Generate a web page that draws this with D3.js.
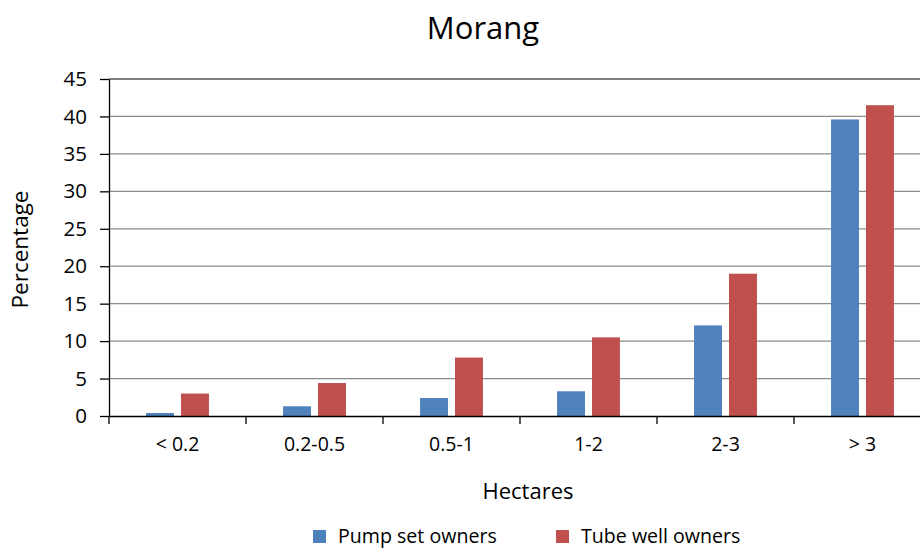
<!DOCTYPE html>
<html>
<head>
<meta charset="utf-8">
<script src="https://cdn.jsdelivr.net/npm/d3@7"></script>
<style>
body { margin: 0; background: #fff; }
text { font-family: "Open Sans", sans-serif; fill: #000; }
</style>
</head>
<body>
<div class="chart"></div>
<script>
const categories = ['< 0.2', '0.2-0.5', '0.5-1', '1-2', '2-3', '> 3'];
const seriesNames = ['Pump set owners', 'Tube well owners'];
const pumpSet = [0.4, 1.3, 2.4, 3.3, 12.1, 39.6];
const tubeWell = [3.0, 4.4, 7.8, 10.5, 19.0, 41.5];
const yTicks = [0, 5, 10, 15, 20, 25, 30, 35, 40, 45];
const colors = ['#4f81bd', '#c0504d'];

const W = 920, H = 548;
const MARGIN = {top: 79, left: 109, right: -11, bottom: 132};
const PW = W - MARGIN.left - MARGIN.right;
const PH = H - MARGIN.top - MARGIN.bottom;

const svg = d3.select('.chart').append('svg')
  .attr('width', W).attr('height', H);

const g = svg.append('g').attr('transform', `translate(${MARGIN.left},${MARGIN.top})`);

const x = d3.scaleBand().domain(categories).range([0, PW]);
const xs = d3.scaleBand().domain(seriesNames).range([0, x.bandwidth()]).paddingInner(0.2).paddingOuter(1.06);
const y = d3.scaleLinear().domain([0, 45]).range([PH, 0]);

// gridlines
g.selectAll('.grid').data(yTicks.slice(1)).enter().append('line')
  .attr('x1', 0).attr('x2', PW)
  .attr('y1', d => y(d)).attr('y2', d => y(d))
  .attr('stroke', d => d === 45 ? '#555' : '#8c8c8c')
  .attr('stroke-width', d => d === 45 ? 1.5 : 1.2);

// bars
const data = categories.map((c, i) => ({c, vals: [pumpSet[i], tubeWell[i]]}));
const grp = g.selectAll('.cat').data(data).enter().append('g')
  .attr('transform', d => `translate(${x(d.c)},0)`);
grp.selectAll('rect').data(d => d.vals.map((v, j) => ({s: seriesNames[j], v, j}))).enter().append('rect')
  .attr('x', d => xs(d.s)).attr('width', xs.bandwidth())
  .attr('y', d => y(d.v)).attr('height', d => PH - y(d.v))
  .attr('fill', d => colors[d.j]);

// y axis
const yAxis = g.append('g').call(d3.axisLeft(y).tickValues(yTicks).tickSize(9).tickSizeOuter(0));
yAxis.select('.domain').attr('stroke', '#000').attr('stroke-width', 1.3);
yAxis.selectAll('.tick line').attr('stroke', '#000').attr('stroke-width', 1.3);
yAxis.selectAll('.tick text').attr('x', -22).attr('font-size', 20.5).style('font-family', '"Open Sans", sans-serif');

// x axis
const xAxis = g.append('g').attr('transform', `translate(0,${PH})`)
  .call(d3.axisBottom(x).tickSize(0).tickSizeOuter(0));
xAxis.select('.domain').attr('stroke', '#000').attr('stroke-width', 1.3);
xAxis.selectAll('.tick text').attr('y', 21).attr('font-size', 19.5).style('font-family', '"Open Sans", sans-serif');
xAxis.selectAll('.sep').data(categories).enter().append('line')
  .attr('x1', d => x(d)).attr('x2', d => x(d))
  .attr('y1', 0).attr('y2', 8)
  .attr('stroke', '#000').attr('stroke-width', 1.3);

// title and axis labels
svg.append('text').attr('x', 483).attr('y', 39).attr('text-anchor', 'middle')
  .attr('font-size', 31).text('Morang');
svg.append('text').attr('transform', `translate(28,${MARGIN.top + PH / 2 + 2}) rotate(-90)`)
  .attr('text-anchor', 'middle').attr('font-size', 22.5).text('Percentage');
svg.append('text').attr('x', 528).attr('y', 499).attr('text-anchor', 'middle')
  .attr('font-size', 22).text('Hectares');

// legend
const legendX = [313, 556];
const lg = svg.selectAll('.legend').data(seriesNames).enter().append('g')
  .attr('transform', (d, i) => `translate(${legendX[i]},530)`);
lg.append('rect').attr('width', 13).attr('height', 13).attr('fill', (d, i) => colors[i]);
lg.append('text').attr('x', 25).attr('y', 13).attr('font-size', 19.6).text(d => d);
</script>
</body>
</html>
